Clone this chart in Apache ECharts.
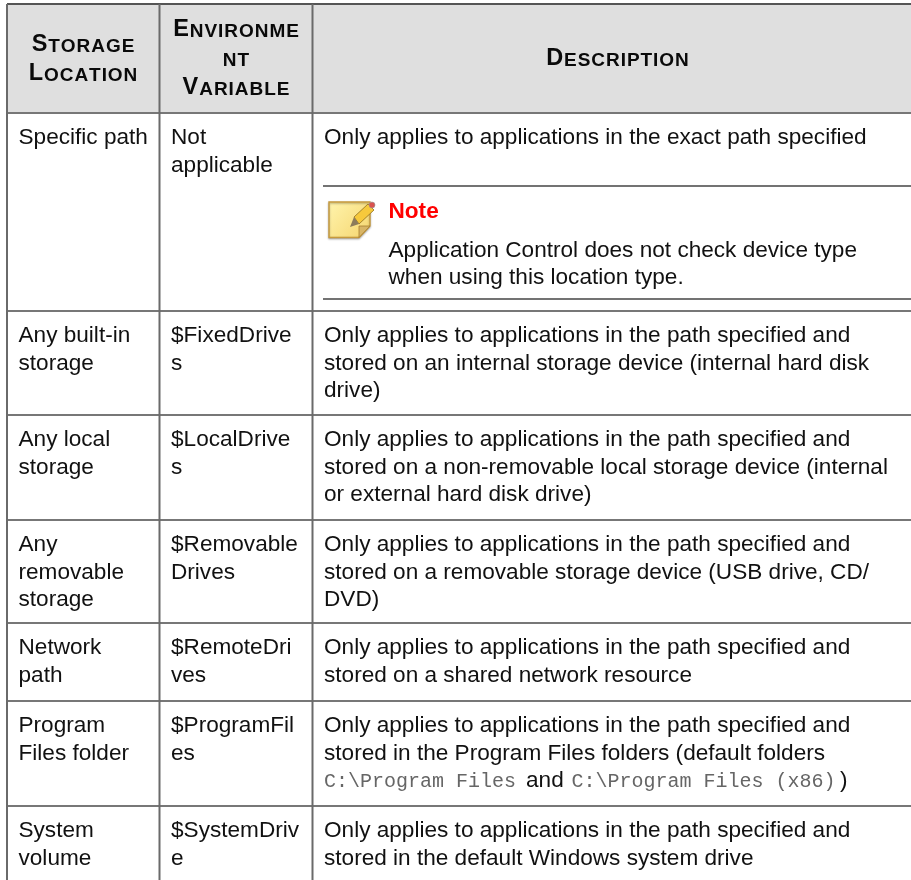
<!DOCTYPE html>
<html>
<head>
<meta charset="utf-8">
<style>html,body{margin:0;padding:0;background:#fff}#c{width:911px;height:880px}</style>
<script src="https://cdn.jsdelivr.net/npm/echarts@6/dist/echarts.min.js"></script>
</head>
<body>
<div id="c"></div>
<script>
var headerLabels = [["Storage", "Location"], ["Environme", "nt", "Variable"], ["Description"]];
var storageLocations = [
  ["Specific path"], ["Any built-in", "storage"], ["Any local", "storage"],
  ["Any", "removable", "storage"], ["Network", "path"], ["Program", "Files folder"], ["System", "volume"]
];
var environmentVariables = [
  ["Not", "applicable"], ["$FixedDrive", "s"], ["$LocalDrive", "s"],
  ["$Removable", "Drives"], ["$RemoteDri", "ves"], ["$ProgramFil", "es"], ["$SystemDriv", "e"]
];
var descriptions = [
  ["Only applies to applications in the exact path specified"],
  ["Only applies to applications in the path specified and", "stored on an internal storage device (internal hard disk", "drive)"],
  ["Only applies to applications in the path specified and", "stored on a non-removable local storage device (internal", "or external hard disk drive)"],
  ["Only applies to applications in the path specified and", "stored on a removable storage device (USB drive, CD/", "DVD)"],
  ["Only applies to applications in the path specified and", "stored on a shared network resource"],
  ["Only applies to applications in the path specified and", "stored in the Program Files folders (default folders"],
  ["Only applies to applications in the path specified and", "stored in the default Windows system drive"]
];
var noteTitle = "Note";
var noteLines = ["Application Control does not check device type", "when using this location type."];
var codePathA = "C:\\Program Files";
var codeJoin = "and";
var codePathB = "C:\\Program Files (x86)";
var codeClose = ")";

var colX = [7, 159.5, 312.5];
var rowY = [4, 113, 311, 415, 520, 623, 701, 806];
var SANS = '"Liberation Sans", Arial, sans-serif';
var LINE = '#666666';
var graphics = [];

function text(str, x, y, o) {
  o = o || {};
  graphics.push({
    type: 'text', x: x, y: y, silent: true,
    style: {
      text: str, fill: o.fill || '#111111', align: o.align || 'left', verticalAlign: 'middle',
      fontFamily: o.family || SANS, fontSize: o.size || 22.6, fontWeight: o.weight || 'normal'
    }
  });
}
function line(x1, y1, x2, y2, w, c) {
  graphics.push({ type: 'line', silent: true, shape: { x1: x1, y1: y1, x2: x2, y2: y2 }, style: { stroke: c || LINE, lineWidth: w || 1.6 } });
}

var mctx = document.createElement('canvas').getContext('2d');
function smallCaps(word, cx, baseline) {
  var bigSize = 23.5, smallSize = 19, gap = 0.95;
  var items = [], total = 0;
  for (var i = 0; i < word.length; i++) {
    var ch = word[i], up = ch.toUpperCase(), size = ch === up ? bigSize : smallSize;
    mctx.font = 'bold ' + size + 'px ' + SANS;
    var w = mctx.measureText(up).width;
    items.push({ c: up, w: w, size: size });
    total += w + (i < word.length - 1 ? gap : 0);
  }
  var x = cx - total / 2;
  items.forEach(function (it) {
    text(it.c, x, baseline - 0.3465 * it.size, { size: it.size, weight: 'bold', fill: '#0a0a0a' });
    x += it.w + gap;
  });
}

// header band
graphics.push({ type: 'rect', silent: true, shape: { x: colX[0], y: rowY[0], width: 911 - colX[0], height: rowY[1] - rowY[0] }, style: { fill: '#dfdfdf' } });

// header labels
var headerCx = [83, 236, 617.5];
var headerBaselines = [[53, 82], [38, 67, 96], [67]];
headerLabels.forEach(function (lines, c) {
  lines.forEach(function (w, i) { smallCaps(w, headerCx[c], headerBaselines[c][i]); });
});

// grid lines
line(colX[0], rowY[0], 911, rowY[0], 2, '#555555');
rowY.slice(1).forEach(function (y) { line(colX[0], y, 911, y, 2, '#777777'); });
colX.forEach(function (x) { line(x, rowY[0], x, 880, 2, '#6a6a6a'); });

// body text
var STEP = 27.3, PAD = 25;
[storageLocations, environmentVariables, descriptions].forEach(function (col, c) {
  var tx = [18.5, 171, 324][c];
  col.forEach(function (lines, r) {
    lines.forEach(function (s, i) { text(s, tx, rowY[r + 1] + PAD + i * STEP); });
  });
});

// mixed third line of the Program Files row
var codeY = rowY[6] + PAD + 2 * STEP;
var MONO = '"Liberation Mono", "Courier New", monospace';
text(codePathA, 324, codeY + 1, { family: MONO, size: 20, fill: '#666666' });
text(codeJoin, 526, codeY);
text(codePathB, 571.5, codeY + 1, { family: MONO, size: 20, fill: '#666666' });
text(codeClose, 840, codeY);

// note block
line(323, 186, 911, 186, 1.6, '#444444');
line(323, 299, 911, 299, 1.6, '#444444');
text(noteTitle, 388.5, 211.5, { fill: '#ff0000', weight: 'bold' });
text(noteLines[0], 388.5, 250.5);
text(noteLines[1], 388.5, 278);

// note icon
graphics.push({
  type: 'polygon', silent: true,
  shape: { points: [[329, 202], [370, 202], [370, 226], [359, 237.5], [329, 237.5]] },
  style: {
    fill: { type: 'linear', x: 0, y: 0, x2: 1, y2: 1, colorStops: [{ offset: 0, color: '#fff4ad' }, { offset: 1, color: '#f5d56e' }] },
    stroke: '#c79a3c', lineWidth: 1.4, shadowColor: 'rgba(0,0,0,0.3)', shadowBlur: 2, shadowOffsetY: 1
  }
});
graphics.push({ type: 'polygon', silent: true, shape: { points: [[359, 237.5], [359, 226], [370, 226]] }, style: { fill: '#d8b566', stroke: '#a67f2e', lineWidth: 0.8 } });
graphics.push({ type: 'polygon', silent: true, shape: { points: [[354, 217], [368, 204], [374, 210], [359, 224]] }, style: { fill: '#f6c93c', stroke: '#8f6f1e', lineWidth: 0.8 } });
graphics.push({ type: 'polygon', silent: true, shape: { points: [[354, 217], [359, 224], [350, 227]] }, style: { fill: '#8c7b5a' } });
graphics.push({ type: 'circle', silent: true, shape: { cx: 372, cy: 205, r: 3 }, style: { fill: '#d9534f', stroke: '#999', lineWidth: 0.6 } });

var chart = echarts.init(document.getElementById('c'), null, { renderer: 'canvas' });
chart.setOption({ animation: false, backgroundColor: '#ffffff', graphic: { elements: graphics } });
</script>
</body>
</html>
